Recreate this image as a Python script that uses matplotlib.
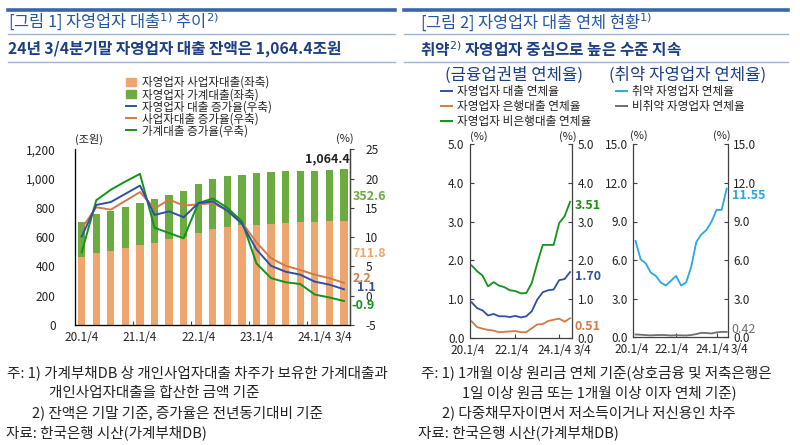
import matplotlib
matplotlib.use("Agg")
import matplotlib.pyplot as plt
from matplotlib.lines import Line2D
from matplotlib.patches import Patch

plt.rcParams['font.family'] = ['Noto Sans CJK KR', 'DejaVu Sans']
plt.rcParams['axes.unicode_minus'] = False

# ---------------- data ----------------
quarters = ['20.1/4', '20.2/4', '20.3/4', '20.4/4', '21.1/4', '21.2/4', '21.3/4', '21.4/4',
            '22.1/4', '22.2/4', '22.3/4', '22.4/4', '23.1/4', '23.2/4', '23.3/4', '23.4/4',
            '24.1/4', '24.2/4', '24.3/4']
biz_loans = [465, 490, 506, 526, 544, 563, 585, 599, 629, 654, 670, 680, 683, 692, 699,
             702, 705, 708, 711.8]
total_loans = [704, 758, 781, 804, 836, 861, 891, 913, 966, 998, 1016, 1025, 1039, 1046,
               1052, 1052, 1055, 1059, 1064.4]
hh_loans = [t - b for t, b in zip(total_loans, biz_loans)]
growth_total = [10.1, 15.5, 16.0, 17.4, 18.8, 13.8, 14.4, 13.4, 15.8, 16.1, 14.5, 12.3,
                7.9, 5.1, 4.1, 3.6, 2.4, 1.9, 1.1]
growth_biz = [11.5, 15.1, 14.7, 16.2, 17.7, 14.9, 16.4, 15.4, 15.6, 15.8, 14.6, 12.5,
              9.1, 6.4, 5.1, 4.4, 3.6, 3.0, 2.2]
growth_hh = [7.4, 16.3, 18.1, 19.5, 20.8, 11.6, 10.7, 9.8, 15.8, 16.6, 15.0, 12.7,
             5.5, 3.0, 2.3, 2.0, 0.2, -0.3, -0.9]

delinq_total = [0.92, 0.77, 0.71, 0.58, 0.62, 0.56, 0.56, 0.54, 0.57, 0.53, 0.56, 0.69,
                0.99, 1.18, 1.23, 1.25, 1.49, 1.52, 1.70]
delinq_bank = [0.43, 0.28, 0.24, 0.21, 0.19, 0.15, 0.16, 0.17, 0.18, 0.15, 0.15, 0.25,
               0.35, 0.36, 0.44, 0.47, 0.50, 0.42, 0.51]
delinq_nonbank = [1.87, 1.72, 1.61, 1.33, 1.44, 1.35, 1.31, 1.23, 1.21, 1.15, 1.16, 1.42,
                  1.93, 2.40, 2.40, 2.40, 2.96, 3.14, 3.51]
delinq_vuln = [7.49, 6.06, 5.75, 5.03, 4.77, 4.25, 4.02, 4.40, 4.77, 4.02, 4.27, 5.49,
               7.41, 8.00, 8.34, 8.99, 9.90, 9.90, 11.55]
delinq_nonvuln = [0.22, 0.20, 0.17, 0.15, 0.17, 0.18, 0.17, 0.14, 0.16, 0.15, 0.14, 0.18,
                  0.25, 0.35, 0.33, 0.30, 0.38, 0.42, 0.42]

left_yticks = [0, 200, 400, 600, 800, 1000, 1200]
right_yticks = [-5, 0, 5, 10, 15, 20, 25]
small1_ticks = [0.0, 1.0, 2.0, 3.0, 4.0, 5.0]
small2_ticks = [0.0, 3.0, 6.0, 9.0, 12.0, 15.0]
left_xlabels = {0: '20.1/4', 4: '21.1/4', 8: '22.1/4', 12: '23.1/4', 16: '24.1/4', 18: '3/4'}
small_xlabels = {0: '20.1/4', 8: '22.1/4', 16: '24.1/4'}

# ---------------- colours ----------------
C_ORANGE_BAR = '#EFA66E'
C_GREEN_BAR = '#6CAB40'
C_BLUE = '#2E4FA3'
C_ORANGE = '#D27A45'
C_GREEN = '#14921A'
C_CYAN = '#2AA7DE'
C_GRAY = '#6F6F6F'
C_TITLE = '#2456A4'
C_SUB = '#1C3F84'
C_RULE = '#3B66AC'
C_THIN = '#9DB3D8'
C_TXT = '#222222'
C_SPINE = '#404040'

W, H = 800, 445
fig = plt.figure(figsize=(8, 4.45), dpi=100)


def fx(px):
    return px / W


def fy(py):
    return 1 - py / H


# ---------------- header ----------------
for x0, x1 in [(8, 395), (404, 788)]:
    fig.add_artist(Line2D([fx(x0), fx(x1)], [fy(10), fy(10)], color=C_RULE, lw=2.6))
    fig.add_artist(Line2D([fx(x0), fx(x1)], [fy(34), fy(34)], color=C_THIN, lw=1.0))
    fig.add_artist(Line2D([fx(x0), fx(x1)], [fy(62), fy(62)], color=C_THIN, lw=1.0))

fig.text(fx(8), fy(22), r'[그림 1] 자영업자 대출$^{1)}$ 추이$^{2)}$', fontsize=11.8, color=C_TITLE,
         va='center', ha='left')
fig.text(fx(8), fy(49), '24년 3/4분기말 자영업자 대출 잔액은 1,064.4조원', fontsize=11.3,
         color=C_SUB, va='center', ha='left', fontweight='bold')
fig.text(fx(420), fy(22), r'[그림 2] 자영업자 대출 연체 현황$^{1)}$', fontsize=11.8, color=C_TITLE,
         va='center', ha='left')
fig.text(fx(420), fy(49), r'취약$^{2)}$ 자영업자 중심으로 높은 수준 지속', fontsize=11.3,
         color=C_SUB, va='center', ha='left', fontweight='bold')

# ---------------- left chart ----------------
ax = fig.add_axes([fx(75), fy(325), fx(350) - fx(75), fy(149.3) - fy(325)])
x = list(range(len(quarters)))
ax.bar(x, biz_loans, width=0.5, color=C_ORANGE_BAR, zorder=2)
ax.bar(x, hh_loans, width=0.5, bottom=biz_loans, color=C_GREEN_BAR, zorder=2)
ax.set_ylim(0, 1200)
ax.set_xlim(-0.46, 18.42)
ax.set_yticks(left_yticks)
ax.set_yticklabels([f'{v:,}' for v in left_yticks], fontsize=8.5, color=C_TXT)
ax.tick_params(axis='y', length=0, pad=14)
ax.set_xticks([3.5, 7.5, 11.5, 15.5])
ax.set_xticklabels([])
ax.tick_params(axis='x', length=3, direction='in', color=C_SPINE)
for k, lab in left_xlabels.items():
    ax.text(k, -0.035, lab, transform=ax.get_xaxis_transform(), ha='center', va='top',
            fontsize=8.5, color=C_TXT)
ax.spines['top'].set_visible(False)
for s in ['left', 'bottom', 'right']:
    ax.spines[s].set_color(C_SPINE)
    ax.spines[s].set_linewidth(0.9)

ax2 = ax.twinx()
ax2.plot(x, growth_biz, color=C_ORANGE, lw=1.4, zorder=3)
ax2.plot(x, growth_hh, color=C_GREEN, lw=1.4, zorder=3)
ax2.plot(x, growth_total, color=C_BLUE, lw=1.4, zorder=4)
ax2.set_ylim(-5, 25)
ax2.set_yticks(right_yticks)
ax2.set_yticklabels([str(v) for v in right_yticks], fontsize=8.5, color=C_TXT)
ax2.tick_params(axis='y', length=3, direction='out', color=C_SPINE, pad=8)
ax2.spines['top'].set_visible(False)
ax2.spines['right'].set_color(C_SPINE)
ax2.spines['right'].set_linewidth(0.9)
ax2.set_xlim(-0.46, 18.42)

fig.text(fx(89), fy(139), '(조원)', fontsize=8, color=C_TXT, ha='center', va='center')
fig.text(fx(345), fy(139), '(%)', fontsize=8, color=C_TXT, ha='center', va='center')

ax.annotate(f'{total_loans[-1]:,.1f}', xy=(18.42, total_loans[-1]), xytext=(0, 3),
            textcoords='offset points', ha='right', va='bottom', fontsize=9,
            fontweight='bold', color=C_TXT)
ax.annotate(f'{hh_loans[-1]:.1f}', xy=(18.42, 875), xytext=(2, 0), textcoords='offset points',
            ha='left', va='center', fontsize=9, fontweight='bold', color=C_GREEN_BAR)
ax.annotate(f'{biz_loans[-1]:.1f}', xy=(18.42, 490), xytext=(2, 0), textcoords='offset points',
            ha='left', va='center', fontsize=9, fontweight='bold', color=C_ORANGE_BAR)
ax2.annotate(f'{growth_biz[-1]:.1f}', xy=(18.42, 3.0), xytext=(2, 0), textcoords='offset points',
             ha='left', va='center', fontsize=9, fontweight='bold', color=C_ORANGE)
ax2.annotate(f'{growth_total[-1]:.1f}', xy=(18.42, 1.1), xytext=(5, 1), textcoords='offset points',
             ha='left', va='center', fontsize=9, fontweight='bold', color=C_BLUE)
ax2.annotate(f'{growth_hh[-1]:.1f}', xy=(18.42, -0.9), xytext=(1, -3), textcoords='offset points',
             ha='left', va='center', fontsize=9, fontweight='bold', color=C_GREEN)

handles = [Patch(color=C_ORANGE_BAR), Patch(color=C_GREEN_BAR),
           Line2D([], [], color=C_BLUE, lw=1.4), Line2D([], [], color=C_ORANGE, lw=1.4),
           Line2D([], [], color=C_GREEN, lw=1.4)]
labels = ['자영업자 사업자대출(좌축)', '자영업자 가계대출(좌축)', '자영업자 대출 증가율(우축)',
          '사업자대출 증가율(우축)', '가계대출 증가율(우축)']
fig.legend(handles, labels, loc='upper left', bbox_to_anchor=(fx(126), fy(76)),
           frameon=False, fontsize=8.3, handlelength=0.9, handleheight=0.6,
           handletextpad=0.5, labelspacing=-0.08, borderaxespad=0, borderpad=0,
           labelcolor=C_TXT)

# ---------------- small charts: headers and legends ----------------
fig.text(fx(514), fy(75), '(금융업권별 연체율)', fontsize=12, color=C_SUB, ha='center', va='center')
fig.text(fx(688), fy(75), '(취약 자영업자 연체율)', fontsize=12, color=C_SUB, ha='center', va='center')

h1 = [Line2D([], [], color=C_BLUE, lw=1.4), Line2D([], [], color=C_ORANGE, lw=1.4),
      Line2D([], [], color=C_GREEN, lw=1.4)]
l1 = ['자영업자 대출 연체율', '자영업자 은행대출 연체율', '자영업자 비은행대출 연체율']
fig.legend(h1, l1, loc='upper left', bbox_to_anchor=(fx(441), fy(85)), frameon=False,
           fontsize=8.4, handlelength=0.9, handletextpad=0.5, labelspacing=0.18,
           borderaxespad=0, borderpad=0, labelcolor=C_TXT)
h2 = [Line2D([], [], color=C_CYAN, lw=1.4), Line2D([], [], color=C_GRAY, lw=1.4)]
l2 = ['취약 자영업자 연체율', '비취약 자영업자 연체율']
fig.legend(h2, l2, loc='upper left', bbox_to_anchor=(fx(616), fy(85)), frameon=False,
           fontsize=8.4, handlelength=0.9, handletextpad=0.5, labelspacing=0.18,
           borderaxespad=0, borderpad=0, labelcolor=C_TXT)


def style_small(a, ticks, xlim):
    a.set_xlim(*xlim)
    a.set_ylim(ticks[0], ticks[-1])
    a.set_yticks(ticks)
    a.set_yticklabels([f'{t:.1f}' for t in ticks], fontsize=8.5, color=C_TXT)
    a.tick_params(axis='y', direction='in', length=3, left=True, right=True,
                  labelleft=True, labelright=True, color=C_SPINE, pad=4)
    a.set_xticks([8, 16])
    a.set_xticklabels([])
    a.tick_params(axis='x', direction='in', length=3, color=C_SPINE)
    a.spines['top'].set_visible(False)
    for s in ['left', 'right', 'bottom']:
        a.spines[s].set_color(C_SPINE)
        a.spines[s].set_linewidth(0.9)
    for k, lab in small_xlabels.items():
        a.annotate(lab, xy=(k, 0), xycoords=('data', 'axes fraction'), xytext=(-3, -4),
                   textcoords='offset points', ha='center', va='top', fontsize=8.5, color=C_TXT)
    a.annotate('3/4', xy=(18, 0), xycoords=('data', 'axes fraction'), xytext=(9, -4),
               textcoords='offset points', ha='center', va='top', fontsize=8.5, color=C_TXT)


# ---------------- small chart 1 ----------------
s1 = fig.add_axes([fx(470), fy(338), fx(572) - fx(470), fy(144) - fy(338)])
s1.plot(x, delinq_bank, color=C_ORANGE, lw=1.3)
s1.plot(x, delinq_total, color=C_BLUE, lw=1.3)
s1.plot(x, delinq_nonbank, color=C_GREEN, lw=1.3)
style_small(s1, small1_ticks, (-0.3, 18.35))
fig.text(fx(479), fy(137), '(%)', fontsize=8, color=C_TXT, ha='center', va='center')
fig.text(fx(568), fy(137), '(%)', fontsize=8, color=C_TXT, ha='center', va='center')
for vals, col, dy in [(delinq_nonbank, C_GREEN, -3), (delinq_total, C_BLUE, -3),
                      (delinq_bank, C_ORANGE, -6)]:
    s1.annotate(f'{vals[-1]:.2f}', xy=(1, vals[-1]), xycoords=('axes fraction', 'data'),
                xytext=(2, dy), textcoords='offset points', ha='left',
                va='center', fontsize=9, fontweight='bold', color=col)

# ---------------- small chart 2 ----------------
s2 = fig.add_axes([fx(633.3), fy(337.3), fx(727.7) - fx(633.3), fy(144.3) - fy(337.3)])
s2.plot(x, delinq_nonvuln, color=C_GRAY, lw=1.3)
s2.plot(x, delinq_vuln, color=C_CYAN, lw=1.3)
style_small(s2, small2_ticks, (-0.45, 18.2))
fig.text(fx(639), fy(136), '(%)', fontsize=8, color=C_TXT, ha='center', va='center')
fig.text(fx(722), fy(136), '(%)', fontsize=8, color=C_TXT, ha='center', va='center')
s2.annotate(f'{delinq_vuln[-1]:.2f}', xy=(1, delinq_vuln[-1]), xycoords=('axes fraction', 'data'),
            xytext=(3, -5), textcoords='offset points', ha='left', va='center', fontsize=9,
            fontweight='bold', color=C_CYAN)
s2.annotate(f'{delinq_nonvuln[-1]:.2f}', xy=(1, delinq_nonvuln[-1]), xycoords=('axes fraction', 'data'),
            xytext=(3, 2), textcoords='offset points', ha='left', va='center', fontsize=9,
            color=C_GRAY)

# ---------------- footnotes ----------------
fs = 10.5
fig.text(fx(7), fy(373), '주: 1) 가계부채DB 상 개인사업자대출 차주가 보유한 가계대출과', fontsize=fs,
         color=C_TXT, va='center')
fig.text(fx(49), fy(393), '개인사업자대출을 합산한 금액 기준', fontsize=fs, color=C_TXT, va='center')
fig.text(fx(32), fy(413), '2) 잔액은 기말 기준, 증가율은 전년동기대비 기준', fontsize=fs, color=C_TXT,
         va='center')
fig.text(fx(6), fy(433), '자료: 한국은행 시산(가계부채DB)', fontsize=fs, color=C_TXT, va='center')

fig.text(fx(421), fy(373), '주: 1) 1개월 이상 원리금 연체 기준(상호금융 및 저축은행은', fontsize=fs,
         color=C_TXT, va='center')
fig.text(fx(462), fy(393), '1일 이상 원금 또는 1개월 이상 이자 연체 기준)', fontsize=fs, color=C_TXT,
         va='center')
fig.text(fx(442), fy(413), '2) 다중채무자이면서 저소득이거나 저신용인 차주', fontsize=fs, color=C_TXT,
         va='center')
fig.text(fx(418), fy(433), '자료: 한국은행 시산(가계부채DB)', fontsize=fs, color=C_TXT, va='center')

fig.savefig('out.png', dpi=100)
